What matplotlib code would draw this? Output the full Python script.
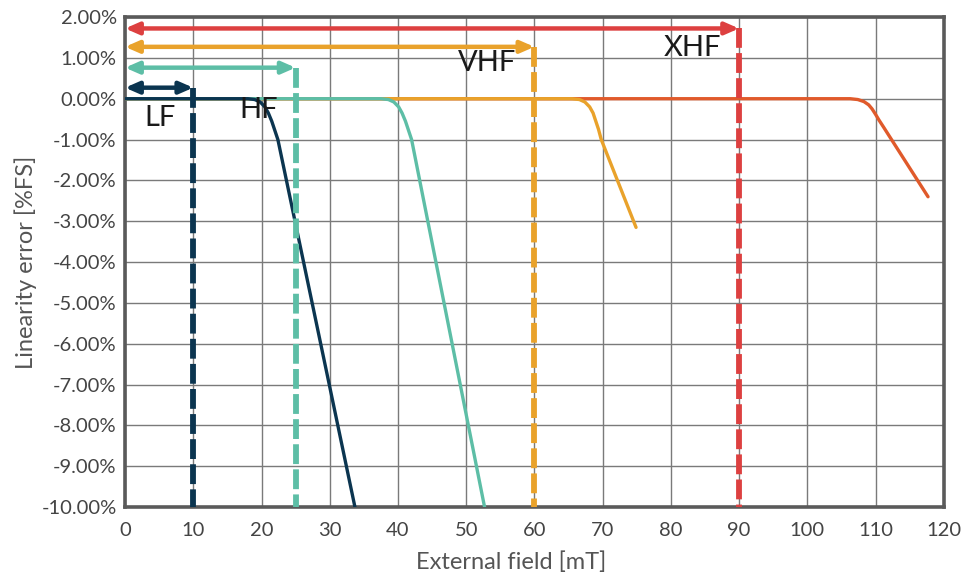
import numpy as np
import matplotlib
matplotlib.use('Agg')
import matplotlib.pyplot as plt

###############################################################################
# Data
###############################################################################
LF_X = [0, 18.0, 19.0, 19.8, 20.5, 21.0, 21.5, 21.9, 22.4, 33.7]
LF_Y = [0, 0.0, -0.02, -0.08, -0.2, -0.35, -0.55, -0.75, -1.0, -10.0]
HF_X = [0, 37.5, 38.6, 39.4, 40.1, 40.6, 41.1, 41.5, 42.0, 52.7]
HF_Y = [0, 0.0, -0.02, -0.08, -0.2, -0.35, -0.55, -0.75, -1.0, -10.0]
VHF_X = [0, 65.5, 66.6, 67.4, 68.1, 68.6, 69.0, 69.4, 69.8, 74.9]
VHF_Y = [0, 0.0, -0.02, -0.08, -0.2, -0.35, -0.55, -0.75, -1.0, -3.15]
XHF_X = [0, 106.3, 107.4, 108.3, 109.0, 109.5, 110.0, 110.5, 111.2, 117.7]
XHF_Y = [0, 0.0, -0.02, -0.07, -0.15, -0.25, -0.38, -0.52, -0.7, -2.4]

NAMES = ['XHF', 'VHF', 'HF', 'LF']
LIMITS = [90, 60, 25, 10]              # mT, end of each range
ARROW_Y = [1.72, 1.27, 0.76, 0.27]     # %FS, height of range arrows
LABEL_XY = [(83.2, 1.25), (53.0, 0.88), (19.6, -0.27), (5.2, -0.47)]
COLORS = ['#dd4040', '#e9a22b', '#5dbea6', '#0b3550']
CURVE_COLORS = ['#e05a2b', '#e9a22b', '#5dbea6', '#0b3550']
CURVES = [(XHF_X, XHF_Y), (VHF_X, VHF_Y), (HF_X, HF_Y), (LF_X, LF_Y)]

X_TICKS = np.arange(0, 121, 10)
Y_TICKS = np.arange(-10, 2.01, 1)

###############################################################################
# Plot
###############################################################################
plt.rcParams['font.family'] = ['Lato', 'DejaVu Sans']
fig = plt.figure(figsize=(9.62, 5.77), dpi=100)
ax = fig.add_axes([0.130, 0.121, 0.851, 0.8495])

ax.set_xlim(0, 120)
ax.set_ylim(-10, 2)
ax.set_xticks(X_TICKS)
ax.set_yticks(Y_TICKS)
ax.set_yticklabels([f'{v:.2f}%' for v in Y_TICKS])
ax.grid(True, color='#7a7a7a', lw=1.0)
ax.set_axisbelow(True)
ax.tick_params(length=0, labelsize=14.5, colors='#444444')
ax.tick_params(axis='x', pad=11)
ax.tick_params(axis='y', pad=6)
for sp in ax.spines.values():
    sp.set_linewidth(2.6)
    sp.set_color('#5a5a5a')

# curves (navy drawn last -> on top)
for (xs, ys), c in zip(CURVES, CURVE_COLORS):
    ax.plot(xs, ys, color=c, lw=2.4, solid_capstyle='round',
            solid_joinstyle='round', zorder=3)

# range arrows, dashed limits and labels
for name, lim, ay, (lx, ly), c in zip(NAMES, LIMITS, ARROW_Y, LABEL_XY, COLORS):
    ax.plot([lim, lim], [ay, -10], color=c, lw=4.2, dashes=(3.4, 0.9), zorder=4)
    ax.annotate(
        '', xy=(lim, ay), xytext=(0, ay),
        arrowprops=dict(arrowstyle='<|-|>,head_length=0.8,head_width=0.35',
                        color=c, lw=3.2, shrinkA=0, shrinkB=0),
        zorder=5, annotation_clip=False
    )
    ax.text(lx, ly, name, fontsize=21, color='#1a1a1a', ha='center',
            va='center', zorder=6)

ax.set_xlabel('External field [mT]', fontsize=17, color='#555555')
ax.set_ylabel('Linearity error [%FS]', fontsize=17, color='#555555')
ax.xaxis.set_label_coords(0.472, -0.09)
ax.yaxis.set_label_coords(-0.108, 0.5)

fig.savefig('out.png', dpi=100)
plt.close('all')
